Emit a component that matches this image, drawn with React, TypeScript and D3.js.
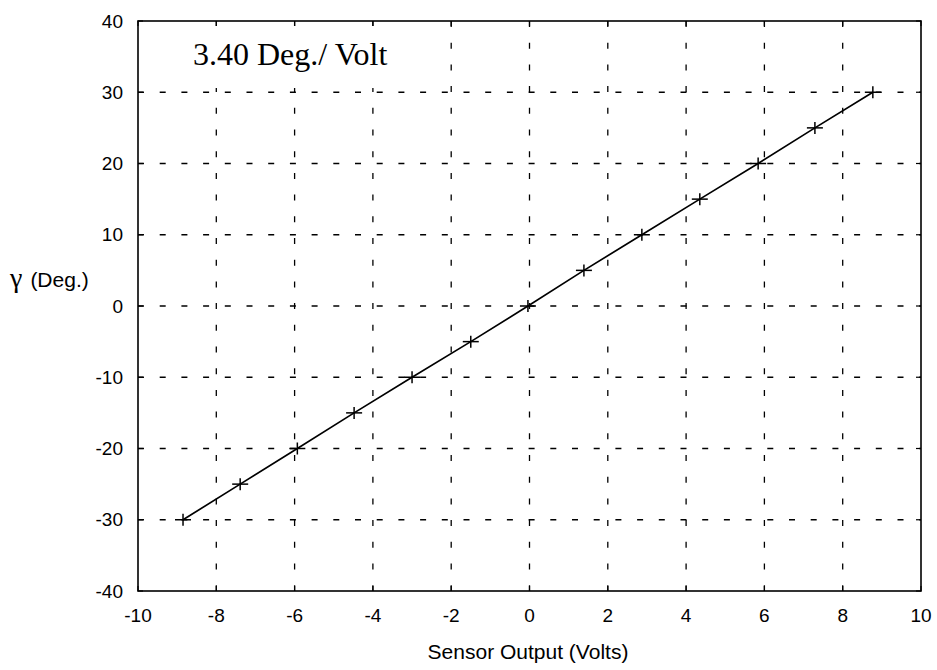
import React from "react";
import * as d3 from "d3";

// sensor calibration points (volts, degrees)
const voltage = [-8.85, -7.39, -5.93, -4.48, -3.0, -1.5, -0.04, 1.39, 2.87, 4.35, 5.84, 7.29, 8.77];
const gamma = [-30, -25, -20, -15, -10, -5, 0, 5, 10, 15, 20, 25, 30];

const xTicks = [-10, -8, -6, -4, -2, 0, 2, 4, 6, 8, 10];
const yTicks = [-40, -30, -20, -10, 0, 10, 20, 30, 40];
const xGrid = [-8, -6, -4, -2, 0, 2, 4, 6, 8];
const yGrid = [-30, -20, -10, 0, 10, 20, 30];

const title = "3.40 Deg./ Volt";

const W = 937;
const H = 670;
const margin = { top: 21, right: 16, bottom: 79, left: 138 };

export default function App() {
	const x = d3
		.scaleLinear()
		.domain([-10, 10])
		.range([margin.left, W - margin.right]);
	const y = d3
		.scaleLinear()
		.domain([-40, 40])
		.range([H - margin.bottom, margin.top]);

	const points = voltage.map((v, i) => [v, gamma[i]] as [number, number]);
	const line = d3
		.line<[number, number]>()
		.x((d) => x(d[0]))
		.y((d) => y(d[1]));

	const sans = "Arial, 'Liberation Sans', Helvetica, sans-serif";
	const serif = "'Times New Roman', 'Liberation Serif', serif";
	const dash = "6,15.7";

	return (
		<svg
			width={W}
			height={H}
			style={{ position: "absolute", left: 0, top: 0, background: "#fff" }}
		>
			{/* grid */}
			{xGrid.map((t) => (
				<line
					key={"gx" + t}
					x1={x(t)}
					x2={x(t)}
					y1={y(40)}
					y2={y(-40)}
					stroke="#000"
					strokeWidth={1.3}
					strokeDasharray={dash}
				/>
			))}
			{yGrid.map((t) => (
				<line
					key={"gy" + t}
					x1={x(-10)}
					x2={x(10)}
					y1={y(t)}
					y2={y(t)}
					stroke="#000"
					strokeWidth={1.3}
					strokeDasharray={dash}
				/>
			))}

			{/* white box behind the annotation */}
			<rect x={x(-10)} y={y(40) + 5} width={300} height={62} fill="#fff" />

			{/* inward ticks */}
			{xTicks.map((t) => (
				<g key={"tx" + t}>
					<line x1={x(t)} x2={x(t)} y1={y(40)} y2={y(40) + 5} stroke="#000" strokeWidth={1.2} />
					<line x1={x(t)} x2={x(t)} y1={y(-40)} y2={y(-40) - 5} stroke="#000" strokeWidth={1.2} />
				</g>
			))}
			{yTicks.map((t) => (
				<g key={"ty" + t}>
					<line x1={x(-10)} x2={x(-10) + 5} y1={y(t)} y2={y(t)} stroke="#000" strokeWidth={1.2} />
					<line x1={x(10)} x2={x(10) - 5} y1={y(t)} y2={y(t)} stroke="#000" strokeWidth={1.2} />
				</g>
			))}

			{/* frame */}
			<rect
				x={x(-10)}
				y={y(40)}
				width={x(10) - x(-10)}
				height={y(-40) - y(40)}
				fill="none"
				stroke="#000"
				strokeWidth={1.6}
			/>

			{/* fit line through points */}
			<path d={line(points) || ""} fill="none" stroke="#000" strokeWidth={1.7} />

			{/* markers */}
			{points.map((d, i) => (
				<g key={"p" + i} stroke="#000" strokeWidth={1.5}>
					<line x1={x(d[0]) - 8} x2={x(d[0]) + 8} y1={y(d[1])} y2={y(d[1])} />
					<line x1={x(d[0])} x2={x(d[0])} y1={y(d[1]) - 6} y2={y(d[1]) + 6} />
				</g>
			))}

			{/* tick labels */}
			{xTicks.map((t) => (
				<text
					key={"lx" + t}
					x={x(t)}
					y={622}
					textAnchor="middle"
					fontFamily={sans}
					fontSize={19}
				>
					{t}
				</text>
			))}
			{yTicks.map((t) => (
				<text
					key={"ly" + t}
					x={123}
					y={y(t)}
					dy="0.35em"
					textAnchor="end"
					fontFamily={sans}
					fontSize={19}
				>
					{t}
				</text>
			))}

			{/* axis labels */}
			<text x={528} y={659} textAnchor="middle" fontFamily={sans} fontSize={21}>
				Sensor Output (Volts)
			</text>
			<text x={10} y={287} fontFamily={sans} fontSize={21}>
				<tspan fontFamily={serif} fontSize={28}>γ</tspan>
				<tspan dx={8}>(Deg.)</tspan>
			</text>

			{/* annotation */}
			<text x={193} y={65} fontFamily={serif} fontSize={32}>
				{title}
			</text>
		</svg>
	);
}
